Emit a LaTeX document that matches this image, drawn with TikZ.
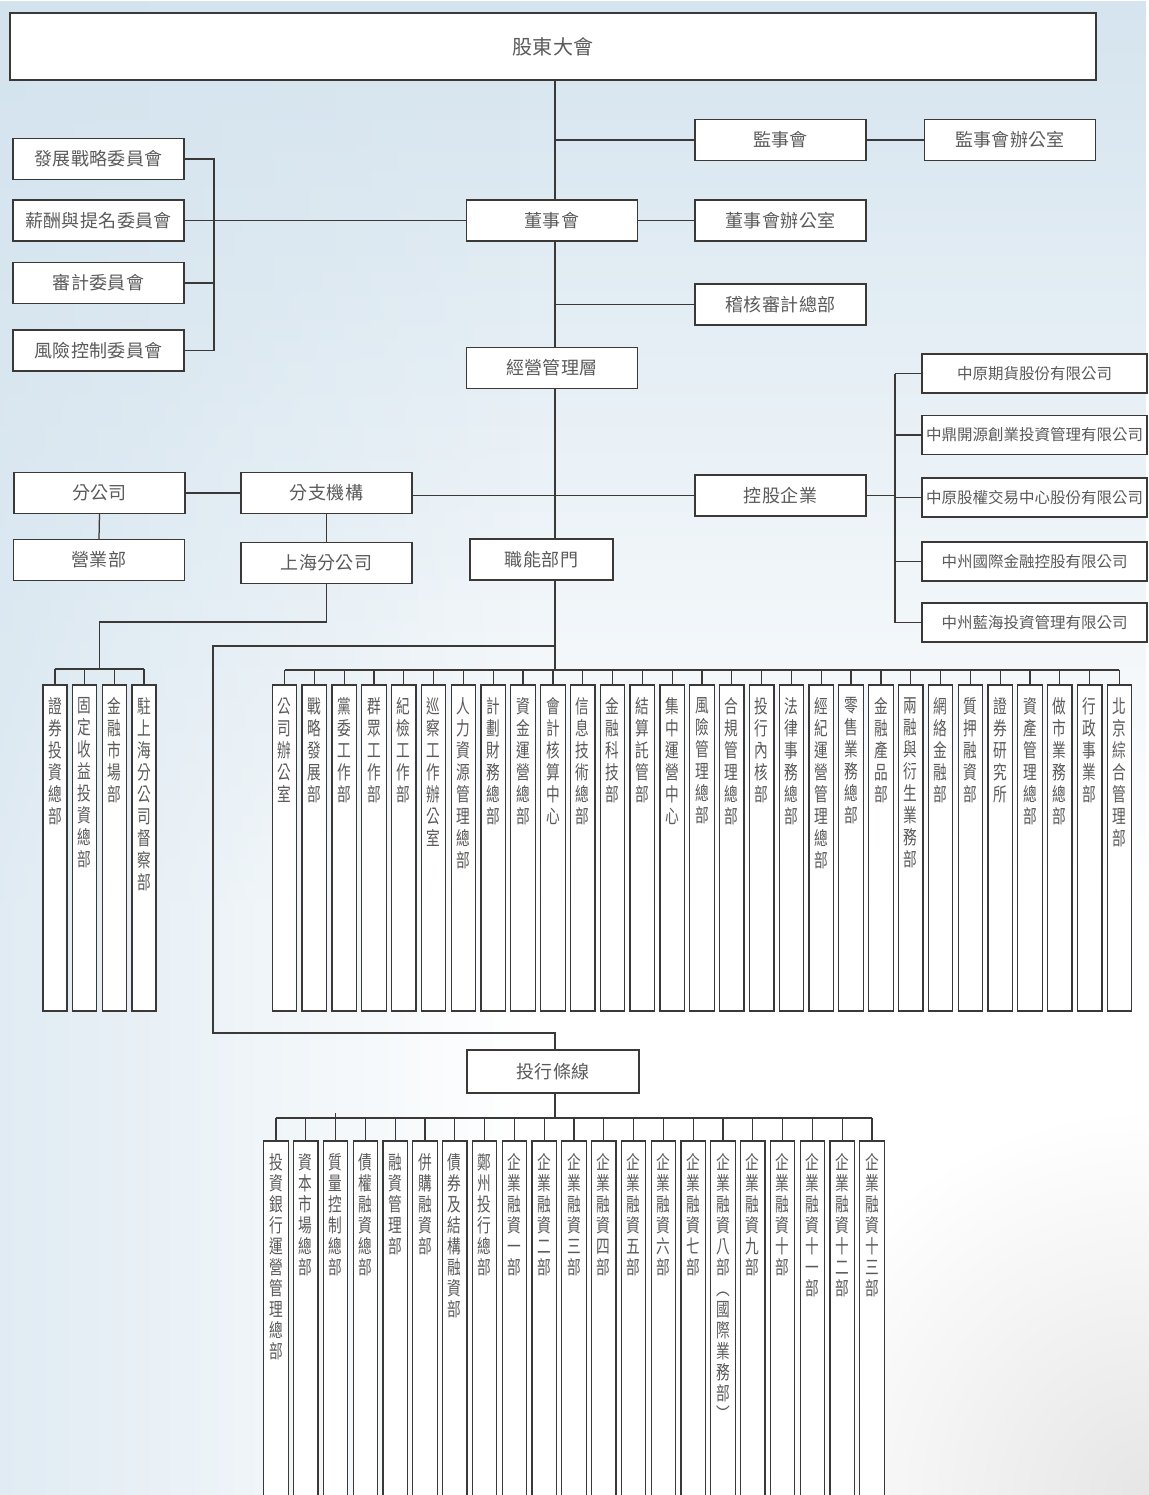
\documentclass[tikz,border=0pt]{standalone}
\usepackage{fontspec}
\newfontfamily\cjk[LetterSpace=2]{Noto Sans CJK TC}
\newfontfamily\cjkv[FakeStretch=0.72]{Noto Sans CJK TC}
\usetikzlibrary{fadings}
\definecolor{lncol}{HTML}{3B3838}
\definecolor{txcol}{HTML}{5A5A5A}
\definecolor{bgb}{HTML}{D3E3EE}
\pgfdeclarelayer{bg}
\pgfdeclarelayer{lines}
\pgfsetlayers{bg,lines,main}
\tikzfading[name=fadedown, top color=transparent!0, bottom color=transparent!100]
\tikzfading[name=faderight, left color=transparent!0, right color=transparent!100]
\tikzfading[name=fadecorner, inner color=transparent!0, outer color=transparent!100]
\ExplSyntaxOn
\cs_new_protected:Npn \rk_vt:nn #1#2
  {
    \vtop
      {
        \cjkv \fontsize{19pt}{#1pt} \selectfont
        \baselineskip = #1pt \scan_stop:
        \lineskiplimit = -100pt \scan_stop:
        \lineskip = 0pt \scan_stop:
        \tl_map_inline:nn {#2} { \hbox{##1} }
      }
  }
\cs_generate_variant:Nn \rk_vt:nn { no }
\NewDocumentCommand \vt { O{22} m } { \rk_vt:no {#1} {#2} }
\ExplSyntaxOff
\tikzset{
  conn/.style={draw=lncol, line width=1.25pt},
  hb/.style={draw=lncol, line width=1.25pt, fill=white, minimum width=171pt,
    minimum height=41pt, inner sep=0pt, text=txcol,
    font=\cjk\fontsize{18pt}{18pt}\selectfont},
  sb/.style={hb, minimum width=225pt, minimum height=39pt,
    font=\cjkv\addfontfeature{FakeStretch=1}\fontsize{15.5pt}{15.5pt}\selectfont},
  vb/.style={draw=lncol, line width=1.25pt, fill=white, minimum width=24.5pt,
    minimum height=326pt, inner sep=0pt},
  vbb/.style={vb, minimum height=380pt},
  vlab/.style={anchor=north, inner sep=0pt, text=txcol},
}
\begin{document}
\begin{tikzpicture}[x=1pt,y=-1pt]
\useasboundingbox (0,0) rectangle (1148,1495);
\begin{pgfonlayer}{bg}
  \fill[white] (0,0) rectangle (1148,1495);
  \fill[bgb, path fading=fadedown, fill opacity=0.95] (0,0) rectangle (1148,900);
  \fill[bgb, path fading=faderight, fill opacity=0.7] (0,0) rectangle (520,1495);
  \fill[black!12, path fading=fadecorner, fill opacity=0.8] (1148,1495) circle (380);
\end{pgfonlayer}

% main boxes
\node[hb, minimum width=1086pt, minimum height=67pt,
  font=\cjk\fontsize{20pt}{20pt}\selectfont] (gd) at (553,46.5) {股東大會};
\node[hb] (jsh) at (780.5,140) {監事會};
\node[hb] (jshb) at (1010,140) {監事會辦公室};
\node[hb] (dsh) at (552,220.5) {董事會};
\node[hb] (dshb) at (780.5,220.5) {董事會辦公室};
\node[hb] (jh) at (780.5,304.5) {稽核審計總部};
\node[hb] (jy) at (552,368) {經營管理層};
\node[hb] (c1) at (98.5,159) {發展戰略委員會};
\node[hb] (c2) at (98.5,220.5) {薪酬與提名委員會};
\node[hb] (c3) at (98.5,283) {審計委員會};
\node[hb] (c4) at (98.5,350.5) {風險控制委員會};
\node[hb] (fgs) at (99.5,493) {分公司};
\node[hb] (yyb) at (99,560) {營業部};
\node[hb] (fzjg) at (326.5,493) {分支機構};
\node[hb] (shfgs) at (326.5,563) {上海分公司};
\node[hb] (kgqy) at (780.5,495.5) {控股企業};
\node[hb, minimum width=143pt] (znbm) at (541.5,559.5) {職能部門};
\node[hb, minimum width=172pt, minimum height=43pt] (thtx) at (553,1071.5) {投行條線};
\node[sb] (s1) at (1034.5,373.5) {中原期貨股份有限公司};
\node[sb] (s2) at (1034.5,435) {中鼎開源創業投資管理有限公司};
\node[sb] (s3) at (1034.5,497.5) {中原股權交易中心股份有限公司};
\node[sb] (s4) at (1034.5,561.5) {中州國際金融控股有限公司};
\node[sb] (s5) at (1034.5,622.5) {中州藍海投資管理有限公司};

% helper coordinates
\coordinate (T) at (555,0);
\coordinate (B) at (214,0);
\coordinate (S) at (895,0);
\coordinate (shturn) at (99.5,622);
\coordinate (lbar) at (0,669);
\coordinate (fbar) at (0,670);
\coordinate (turn) at (213,646);
\coordinate (tl) at (213,1033);
\coordinate (bbar) at (0,1118);
\coordinate (bstub) at (0,1113);

% vertical boxes: Shanghai branch
\foreach \t [count=\i from 0] in {證券投資總部,固定收益投資總部,金融市場部,駐上海分公司督察部}{
  \node[vb, minimum width=24pt] (l\i) at ({55+29.7*\i},848) {};
  \node[vlab] (lt\i) at ([yshift=-13pt]l\i.north) {\vt{\t}};
  \begin{pgfonlayer}{lines}
    \draw[conn] (l\i.north) -- (l\i.north |- lbar);
  \end{pgfonlayer}
}
% functional departments
\foreach \t [count=\i from 0] in {公司辦公室,戰略發展部,黨委工作部,群眾工作部,紀檢工作部,巡察工作辦公室,人力資源管理總部,計劃財務總部,資金運營總部,會計核算中心,信息技術總部,金融科技部,結算託管部,集中運營中心,風險管理總部,合規管理總部,投行內核部,法律事務總部,經紀運營管理總部,零售業務總部,金融產品部,兩融與衍生業務部,網絡金融部,質押融資部,證券研究所,資產管理總部,做市業務總部,行政事業部,北京綜合管理部}{
  \node[vb] (f\i) at ({284.5+29.82*\i},848) {};
  \node[vlab] (ft\i) at ([yshift=-13pt]f\i.north) {\vt{\t}};
  \begin{pgfonlayer}{lines}
    \draw[conn] (f\i.north) -- (f\i.north |- fbar);
  \end{pgfonlayer}
}
% investment banking
\foreach \t [count=\i from 0] in {投資銀行運營管理總部,資本市場總部,質量控制總部,債權融資總部,融資管理部,併購融資部,債券及結構融資部,鄭州投行總部,企業融資一部,企業融資二部,企業融資三部,企業融資四部,企業融資五部,企業融資六部,企業融資七部,企業融資八部︵國際業務部︶,企業融資九部,企業融資十部,企業融資十一部,企業融資十二部,企業融資十三部}{
  \node[vbb] (b\i) at ({276+29.8*\i},1331) {};
  \node[vlab] (bt\i) at ([yshift=-13pt]b\i.north) {\vt[21]{\t}};
  \begin{pgfonlayer}{lines}
    \draw[conn] (b\i.north) -- (b\i.north |- bbar);
  \end{pgfonlayer}
}

\begin{pgfonlayer}{lines}
  % trunk
  \draw[conn] (T |- gd.south) -- (T |- znbm.north);
  \draw[conn] (T |- jsh.west) -- (jsh.west);
  \draw[conn] (jsh.east) -- (jshb.west);
  \draw[conn] (dsh.east) -- (dshb.west);
  \draw[conn] (T |- jh.west) -- (jh.west);
  % committees
  \draw[conn] (c2.east) -- (dsh.west);
  \draw[conn] (c1.east) -- (B |- c1.east) -- (B |- c4.east) -- (c4.east);
  \draw[conn] (c3.east) -- (B |- c3.east);
  % branches
  \draw[conn] (fgs.east) -- (fzjg.west);
  \draw[conn] (fgs.south) -- (yyb.north);
  \draw[conn] (fzjg.south) -- (fzjg.south |- shfgs.north);
  \draw[conn] (fzjg.east |- kgqy.west) -- (kgqy.west);
  % subsidiaries
  \draw[conn] (kgqy.east) -- (S |- kgqy.east);
  \draw[conn] (S |- s1.west) -- (S |- s5.west);
  \foreach \k in {1,...,5}{\draw[conn] (S |- s\k.west) -- (s\k.west);}
  % Shanghai branch departments
  \draw[conn] (shfgs.south) -- (shfgs.south |- shturn) -- (shturn) -- (shturn |- lbar);
  \draw[conn] (l0.north |- lbar) -- (l3.north |- lbar);
  % functional departments
  \draw[conn] (T |- znbm.south) -- (T |- fbar);
  \draw[conn] (f0.north |- fbar) -- (f28.north |- fbar);
  % to investment banking line
  \draw[conn] (T |- turn) -- (turn) -- (tl) -- (T |- tl) -- (T |- thtx.north);
  \draw[conn] (T |- thtx.south) -- (T |- bbar);
  \draw[conn] (b0.north |- bbar) -- (b20.north |- bbar);
  \draw[conn] (b2.north |- bbar) -- (b2.north |- bstub);
\end{pgfonlayer}
\end{tikzpicture}
\end{document}
